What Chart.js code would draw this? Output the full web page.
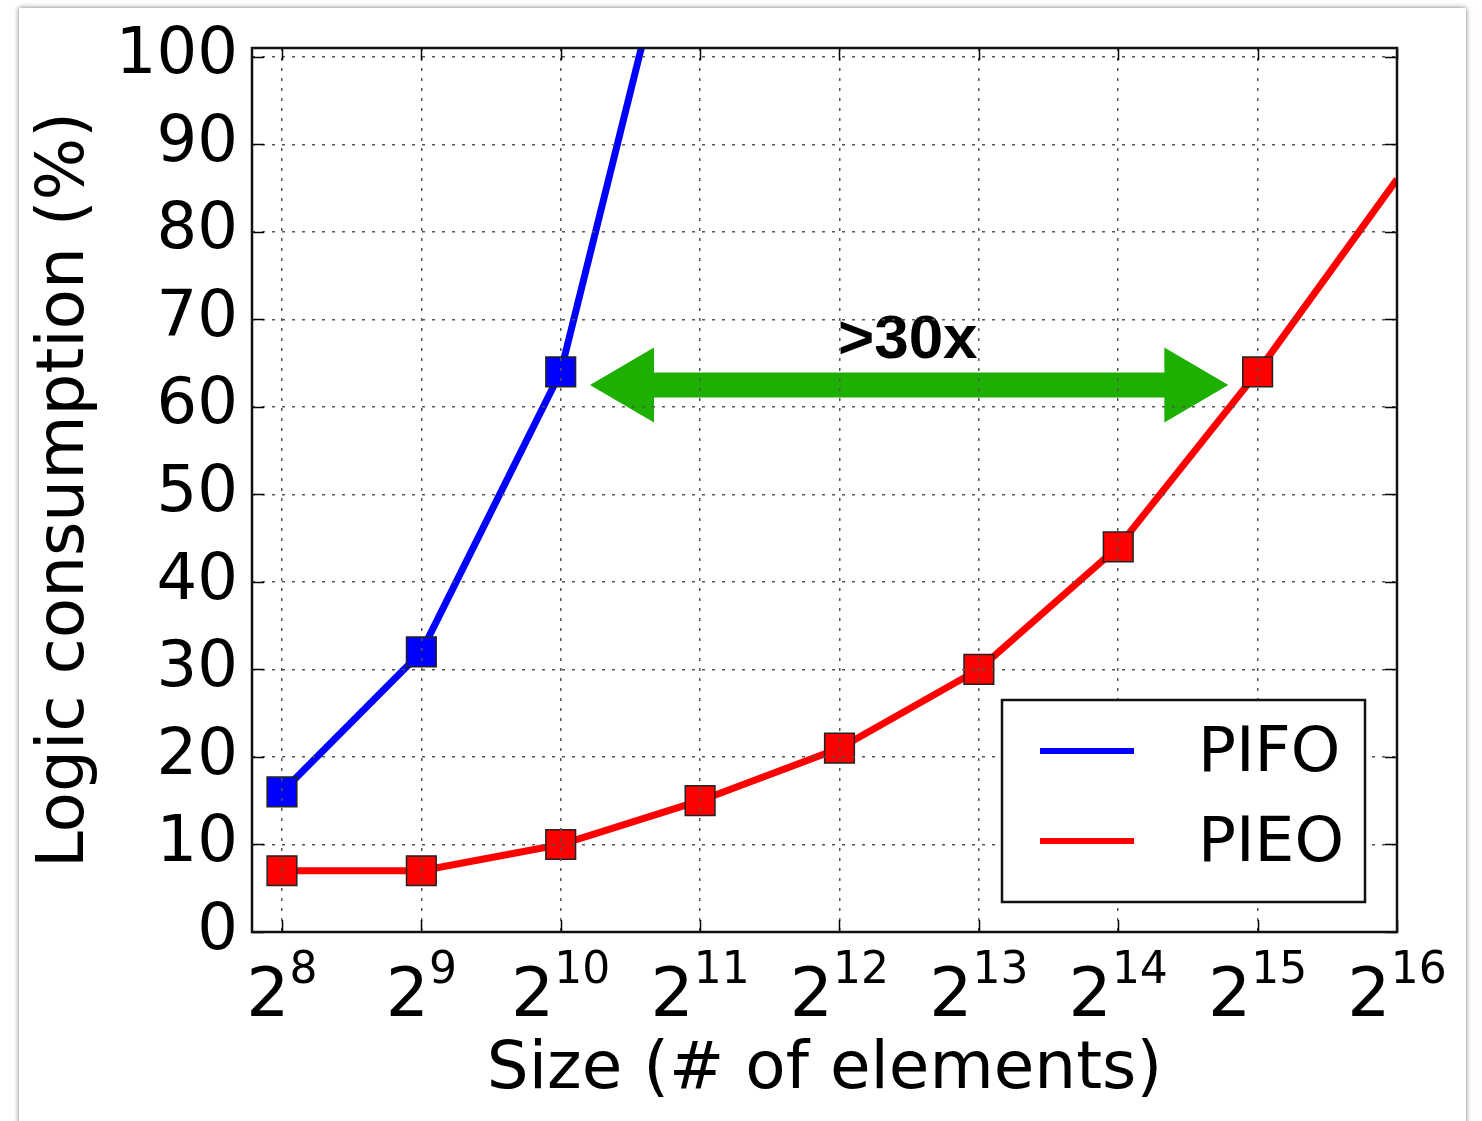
<!DOCTYPE html>
<html>
<head>
<meta charset="utf-8">
<script src="https://cdn.jsdelivr.net/npm/chart.js@4/dist/chart.umd.min.js"></script>
<style>
  html, body { margin: 0; padding: 0; background: #fff; overflow: hidden; }
  #card { position: absolute; left: 19px; top: 8px; width: 1447px; height: 1200px;
          background: #fff; box-shadow: 0 0 5px rgba(0,0,0,0.55); }
  #wrap { position: absolute; left: 0; top: 0; width: 1482px; height: 1121px; }
</style>
</head>
<body>
<div id="card"></div>
<div id="wrap"><canvas id="myChart" width="1482" height="1121"></canvas></div>
<script>
// x is log2 of size (2^8 .. 2^16)
var exps = [8, 9, 10, 11, 12, 13, 14, 15, 16];
var yTicks = [0, 10, 20, 30, 40, 50, 60, 70, 80, 90, 100];

var pifoX = [8, 9, 10, 11];
var pifoY = [16, 32, 64, 128];

var pieoX = [8, 9, 10, 11, 12, 13, 14, 15, 16];
var pieoY = [7, 7, 10, 15, 21, 30, 44, 64, 86];

// annotation: arrow between the two 64% points
var arrowFrom = 10.21, arrowTo = 14.79, arrowLevel = 62.5;
var arrowText = ">30x", arrowTextX = 12.49, arrowTextY = 65.6;

var font = "'DejaVu Sans'";

function toPoints(xs, ys) {
  var pts = [];
  for (var i = 0; i < xs.length; i++) pts.push({x: xs[i], y: ys[i]});
  return pts;
}

// draws frame, inward ticks, superscript x labels, legend and the arrow
var extras = {
  id: 'extras',
  afterDatasetsDraw: function(chart) {
    var ctx = chart.ctx, x = chart.scales.x, y = chart.scales.y;
    var yc = y.getPixelForValue(arrowLevel);
    var x1 = x.getPixelForValue(arrowFrom), x2 = x.getPixelForValue(arrowTo);
    var hl = 64, hh = 37.5, sh = 12.5;
    ctx.save();
    ctx.fillStyle = '#1eb000';
    ctx.beginPath();
    ctx.moveTo(x1, yc);
    ctx.lineTo(x1 + hl, yc - hh);
    ctx.lineTo(x1 + hl, yc - sh);
    ctx.lineTo(x2 - hl, yc - sh);
    ctx.lineTo(x2 - hl, yc - hh);
    ctx.lineTo(x2, yc);
    ctx.lineTo(x2 - hl, yc + hh);
    ctx.lineTo(x2 - hl, yc + sh);
    ctx.lineTo(x1 + hl, yc + sh);
    ctx.lineTo(x1 + hl, yc + hh);
    ctx.closePath();
    ctx.fill();
    ctx.fillStyle = '#000';
    ctx.font = "bold 62px 'Liberation Sans'";
    ctx.textAlign = 'center';
    ctx.textBaseline = 'alphabetic';
    ctx.fillText(arrowText, x.getPixelForValue(arrowTextX), y.getPixelForValue(arrowTextY));
    ctx.restore();
  },
  afterDraw: function(chart) {
    var ctx = chart.ctx, a = chart.chartArea, x = chart.scales.x, y = chart.scales.y;
    ctx.save();
    // inward ticks on all sides
    ctx.strokeStyle = '#000';
    ctx.lineWidth = 1.5;
    ctx.beginPath();
    exps.forEach(function(e) {
      var px = Math.round(x.getPixelForValue(e)) + 0.5;
      ctx.moveTo(px, a.bottom); ctx.lineTo(px, a.bottom - 12);
      ctx.moveTo(px, a.top); ctx.lineTo(px, a.top + 12);
    });
    yTicks.forEach(function(v) {
      var py = Math.round(y.getPixelForValue(v)) + 0.5;
      ctx.moveTo(a.left, py); ctx.lineTo(a.left + 12, py);
      ctx.moveTo(a.right, py); ctx.lineTo(a.right - 12, py);
    });
    ctx.stroke();
    // frame
    ctx.lineWidth = 2.5;
    ctx.strokeStyle = '#111';
    ctx.strokeRect(a.left, a.top, a.right - a.left, a.bottom - a.top);

    // x tick labels 2^n
    ctx.fillStyle = '#000';
    ctx.textBaseline = 'alphabetic';
    ctx.textAlign = 'left';
    exps.forEach(function(e) {
      var px = x.getPixelForValue(e);
      ctx.font = '68px ' + font;
      var wb = ctx.measureText('2').width;
      ctx.font = '44px ' + font;
      var we = ctx.measureText(String(e)).width;
      var left = px - (wb + we) / 2;
      ctx.font = '68px ' + font;
      ctx.fillText('2', left, 1016);
      ctx.font = '44px ' + font;
      ctx.fillText(String(e), left + wb, 983);
    });

    // legend
    var lx = 1002, ly = 700, lw = 363, lh = 202;
    ctx.fillStyle = '#fff';
    ctx.fillRect(lx, ly, lw, lh);
    ctx.lineWidth = 2.5;
    ctx.strokeStyle = '#111';
    ctx.strokeRect(lx, ly, lw, lh);
    var rows = [751, 841];
    chart.data.datasets.forEach(function(ds, i) {
      ctx.strokeStyle = ds.borderColor;
      ctx.lineWidth = 6;
      ctx.beginPath();
      ctx.moveTo(1040, rows[i]); ctx.lineTo(1134, rows[i]);
      ctx.stroke();
      ctx.fillStyle = '#000';
      ctx.font = '63px ' + font;
      ctx.textBaseline = 'middle';
      ctx.fillText(ds.label, 1198, rows[i] + 4);
    });
    ctx.restore();
  }
};

var ctx = document.getElementById('myChart');

var myChart = new Chart(ctx, {
  type: 'line',
  data: {
    datasets: [{
      label: 'PIFO',
      data: toPoints(pifoX, pifoY),
      borderColor: '#0000ff',
      backgroundColor: '#0000ff',
      borderWidth: 7,
      pointStyle: 'rect',
      pointRadius: 21,
      pointBorderColor: '#222',
      pointBorderWidth: 1.5,
      tension: 0
    }, {
      label: 'PIEO',
      data: toPoints(pieoX, pieoY),
      borderColor: '#ff0000',
      backgroundColor: '#ff0000',
      borderWidth: 7,
      pointStyle: 'rect',
      pointRadius: [21, 21, 21, 21, 21, 21, 21, 21, 0],
      pointBorderColor: '#222',
      pointBorderWidth: 1.5,
      tension: 0
    }]
  },
  options: {
    responsive: false,
    animation: false,
    events: [],
    layout: { padding: { left: 0, top: 48, right: 85, bottom: 0 } },
    plugins: { legend: { display: false }, tooltip: { enabled: false } },
    scales: {
      x: {
        type: 'linear',
        min: 7.785,
        max: 16,
        afterBuildTicks: function(axis) { axis.ticks = exps.map(function(v) { return {value: v}; }); },
        afterFit: function(scale) { scale.height = 189; },
        ticks: { display: false },
        grid: { color: '#555', lineWidth: 1.5, drawTicks: false, z: 1 },
        border: { display: false, dash: [3, 7] },
        title: {
          display: true,
          text: 'Size (# of elements)',
          color: '#000',
          font: { family: 'DejaVu Sans', size: 66 },
          padding: { top: 0, bottom: 11 }
        }
      },
      y: {
        min: 0,
        max: 101,
        afterBuildTicks: function(axis) { axis.ticks = yTicks.map(function(v) { return {value: v}; }); },
        afterFit: function(scale) { scale.width = 252; },
        ticks: { color: '#000', padding: 14, font: { family: 'DejaVu Sans', size: 64, lineHeight: 1 } },
        grid: { color: '#555', lineWidth: 1.5, drawTicks: false, z: 1 },
        border: { display: false, dash: [3, 7] },
        title: {
          display: true,
          text: 'Logic consumption (%)',
          color: '#000',
          font: { family: 'DejaVu Sans', size: 66 },
          padding: { top: 26, bottom: 0 }
        }
      }
    }
  },
  plugins: [extras]
});
</script>
</body>
</html>
